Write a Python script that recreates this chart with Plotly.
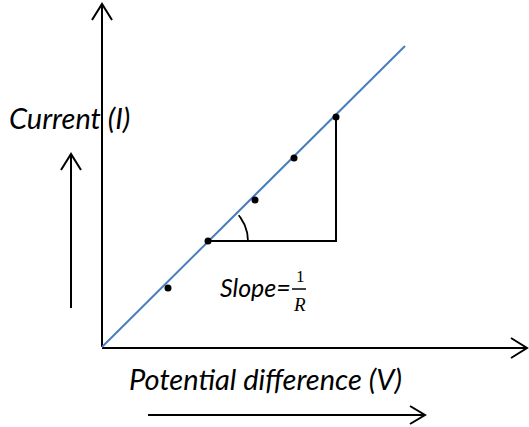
import numpy as np
import plotly.graph_objects as go

# Measured points (diagram units, origin at the axes corner)
voltage = [66, 106, 153, 192, 234]
current = [59, 106, 147, 189, 230]

# Best-fit line end points
fit_v = [0, 303]
fit_i = [0, 301]

x_label = "Potential difference (V)"
y_label = "Current (I)"

BLACK = "#000000"
BLUE = "#4A7EBB"
FONT = "Lato"


def chevron(tip_x, tip_y, dx, dy, length=16, half=10):
    """Open arrow head (two strokes) at tip, pointing along (dx, dy)."""
    ux, uy = dx / np.hypot(dx, dy), dy / np.hypot(dx, dy)
    px, py = -uy, ux
    bx, by = tip_x - ux * length, tip_y - uy * length
    return ([bx + px * half, tip_x, bx - px * half],
            [by + py * half, tip_y, by - py * half])


def black_line(fig, xs, ys, width=2):
    fig.add_trace(go.Scatter(x=xs, y=ys, mode="lines",
                             line=dict(color=BLACK, width=width),
                             hoverinfo="skip", showlegend=False))


fig = go.Figure()

# Axes with open arrow heads
black_line(fig, [0, 0], [0, 343])
black_line(fig, *chevron(0, 343, 0, 1))
black_line(fig, [0, 425], [-1, -1])
black_line(fig, *chevron(425, -1, 1, 0))

# Direction arrows beside the axis titles
black_line(fig, [-31, -31], [39, 193])
black_line(fig, *chevron(-31, 193, 0, 1))
black_line(fig, [46, 323], [-68, -68])
black_line(fig, *chevron(323, -68, 1, 0, length=15, half=9))

# Slope triangle between second and last readings
black_line(fig, [voltage[1], voltage[-1], voltage[-1]],
           [current[1], current[1], current[-1]])

# Angle arc
theta = np.linspace(0, np.radians(40), 30)
black_line(fig, voltage[1] + 40 * np.cos(theta),
           current[1] + 40 * np.sin(theta), width=1.8)

# Fitted line
fig.add_trace(go.Scatter(x=fit_v, y=fit_i, mode="lines",
                         line=dict(color=BLUE, width=2),
                         hoverinfo="skip", showlegend=False))

# Data points
fig.add_trace(go.Scatter(x=voltage, y=current, mode="markers",
                         marker=dict(color=BLACK, size=7),
                         hoverinfo="skip", showlegend=False))

# Fraction bar of 1/R
black_line(fig, [190, 204], [58, 58], width=1.5)

annotations = [
    dict(x=-33, y=230, text=f"<i>{y_label}</i>", size=29, family=FONT),
    dict(x=163, y=-31, text=f"<i>{x_label}</i>", size=29, family=FONT),
    dict(x=191, y=60, text="<i>Slope=</i>", size=25, family=FONT,
         xanchor="right"),
    dict(x=198, y=71, text="1", size=17, family="Liberation Serif"),
    dict(x=197, y=43, text="<i>R</i>", size=19, family="Liberation Serif"),
]
for a in annotations:
    fig.add_annotation(x=a["x"], y=a["y"], text=a["text"], showarrow=False,
                       xanchor=a.get("xanchor", "center"), yanchor="middle",
                       font=dict(family=a["family"], size=a["size"],
                                 color=BLACK))

fig.update_layout(
    width=529, height=427,
    margin=dict(l=0, r=0, t=0, b=0),
    paper_bgcolor="white", plot_bgcolor="white",
    xaxis=dict(range=[-102, 427], visible=False, fixedrange=True),
    yaxis=dict(range=[-80, 347], visible=False, fixedrange=True),
)

fig.write_html("out.html", config={"displayModeBar": False},
               post_script="document.body.style.margin='0';")
